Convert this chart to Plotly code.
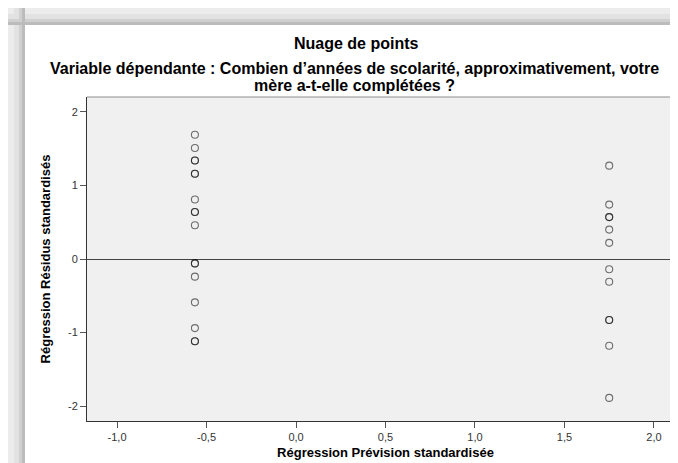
import plotly.graph_objects as go

# ---- data ----
pred_left = [-0.565, -0.565, -0.565, -0.565, -0.565, -0.565, -0.565, -0.565, -0.565,
             -0.565, -0.565, -0.565, -0.565, -0.565, -0.565, -0.565, -0.565]
resid_left = [1.69, 1.51, 1.34, 1.34, 1.16, 1.16, 0.81, 0.64, 0.64, 0.46,
              -0.06, -0.06, -0.24, -0.59, -0.94, -1.12, -1.12]
pred_right = [1.75, 1.75, 1.75, 1.75, 1.75, 1.75, 1.75, 1.75, 1.75, 1.75, 1.75, 1.75]
resid_right = [1.27, 0.74, 0.57, 0.57, 0.40, 0.22, -0.14, -0.31, -0.83, -0.83, -1.18, -1.89]

x_tickvals = [-1.0, -0.5, 0.0, 0.5, 1.0, 1.5, 2.0]
x_ticktext = ["-1,0", "-0,5", "0,0", "0,5", "1,0", "1,5", "2,0"]
y_tickvals = [-2, -1, 0, 1, 2]
y_ticktext = ["-2", "-1", "0", "1", "2"]

title_main = "Nuage de points"
title_sub1 = "Variable dépendante : Combien d’années de scolarité, approximativement, votre"
title_sub2 = "mère a-t-elle complétées ?"
x_title = "Régression Prévision standardisée"
y_title = "Régression Résidus standardisés"

# ---- figure ----
W, H = 678, 463
L, R, T, B = 79, 2, 89, 50
pw, ph = W - L - R, H - T - B

def px(x):
    return (x - L) / pw

def py(y):
    return (H - B - y) / ph

FONT = "Liberation Sans, Arial, sans-serif"

fig = go.Figure()
fig.add_trace(go.Scatter(
    x=pred_left + pred_right,
    y=resid_left + resid_right,
    mode="markers",
    marker=dict(symbol="circle-open", size=7, color="rgba(0,0,0,0.55)",
                line=dict(width=1.1)),
    showlegend=False,
    hoverinfo="x+y",
))

shapes = []
# decorative frame (gray bands at top and left)
bands = [(0, 6, "#ececec"), (6, 11, "#e2e2e2"), (11, 14, "#d0d0d0"), (14, 17, "#bcbcbc")]
for a, b, c in bands:
    shapes.append(dict(type="rect", xref="paper", yref="paper",
                       x0=px(0), x1=px(W), y0=py(a), y1=py(b),
                       fillcolor=c, line=dict(width=0), layer="below"))
    shapes.append(dict(type="rect", xref="paper", yref="paper",
                       x0=px(a), x1=px(b), y0=py(0), y1=py(H),
                       fillcolor=c, line=dict(width=0), layer="below"))
# top and right border of plot box
shapes.append(dict(type="line", xref="paper", yref="paper", x0=0, x1=1, y0=1, y1=1,
                   line=dict(color="#8c8c8c", width=1)))
shapes.append(dict(type="line", xref="paper", yref="paper", x0=1, x1=1, y0=0, y1=1,
                   line=dict(color="#7a7a7a", width=2)))

TFONT = dict(family=FONT, size=16, color="#000")
annotations = [
    dict(text="<b>" + title_main + "</b>", xref="paper", yref="paper", x=px(348), y=py(36),
         xanchor="center", yanchor="middle", showarrow=False, font=TFONT),
    dict(text="<b>" + title_sub1 + "</b>", xref="paper", yref="paper", x=px(346), y=py(60),
         xanchor="center", yanchor="middle", showarrow=False, font=TFONT),
    dict(text="<b>" + title_sub2 + "</b>", xref="paper", yref="paper", x=px(346), y=py(77),
         xanchor="center", yanchor="middle", showarrow=False, font=TFONT),
]

fig.update_layout(
    width=W, height=H,
    margin=dict(l=L, r=R, t=T, b=B, pad=0),
    paper_bgcolor="white",
    plot_bgcolor="#f0f0f0",
    font=dict(family=FONT, color="#333"),
    shapes=shapes,
    annotations=annotations,
    xaxis=dict(
        range=[-1.168, 2.168],
        tickvals=x_tickvals, ticktext=x_ticktext,
        showgrid=False, zeroline=False,
        showline=True, linecolor="#333", linewidth=1,
        ticks="outside", ticklen=6, tickcolor="#555", tickwidth=1,
        tickfont=dict(family=FONT, size=11, color="#333"),
        title=dict(text="<b>" + x_title + "</b>", standoff=5,
                   font=dict(family=FONT, size=13, color="#000")),
    ),
    yaxis=dict(
        range=[-2.204, 2.204],
        tickvals=y_tickvals, ticktext=y_ticktext,
        showgrid=False,
        zeroline=True, zerolinecolor="#444", zerolinewidth=1,
        showline=True, linecolor="#333", linewidth=1,
        ticks="outside", ticklen=6, tickcolor="#555", tickwidth=1,
        tickfont=dict(family=FONT, size=11, color="#333"),
        title=dict(text="<b>" + y_title + "</b>", standoff=14,
                   font=dict(family=FONT, size=13, color="#000")),
    ),
)

fig.write_html("out.html")
